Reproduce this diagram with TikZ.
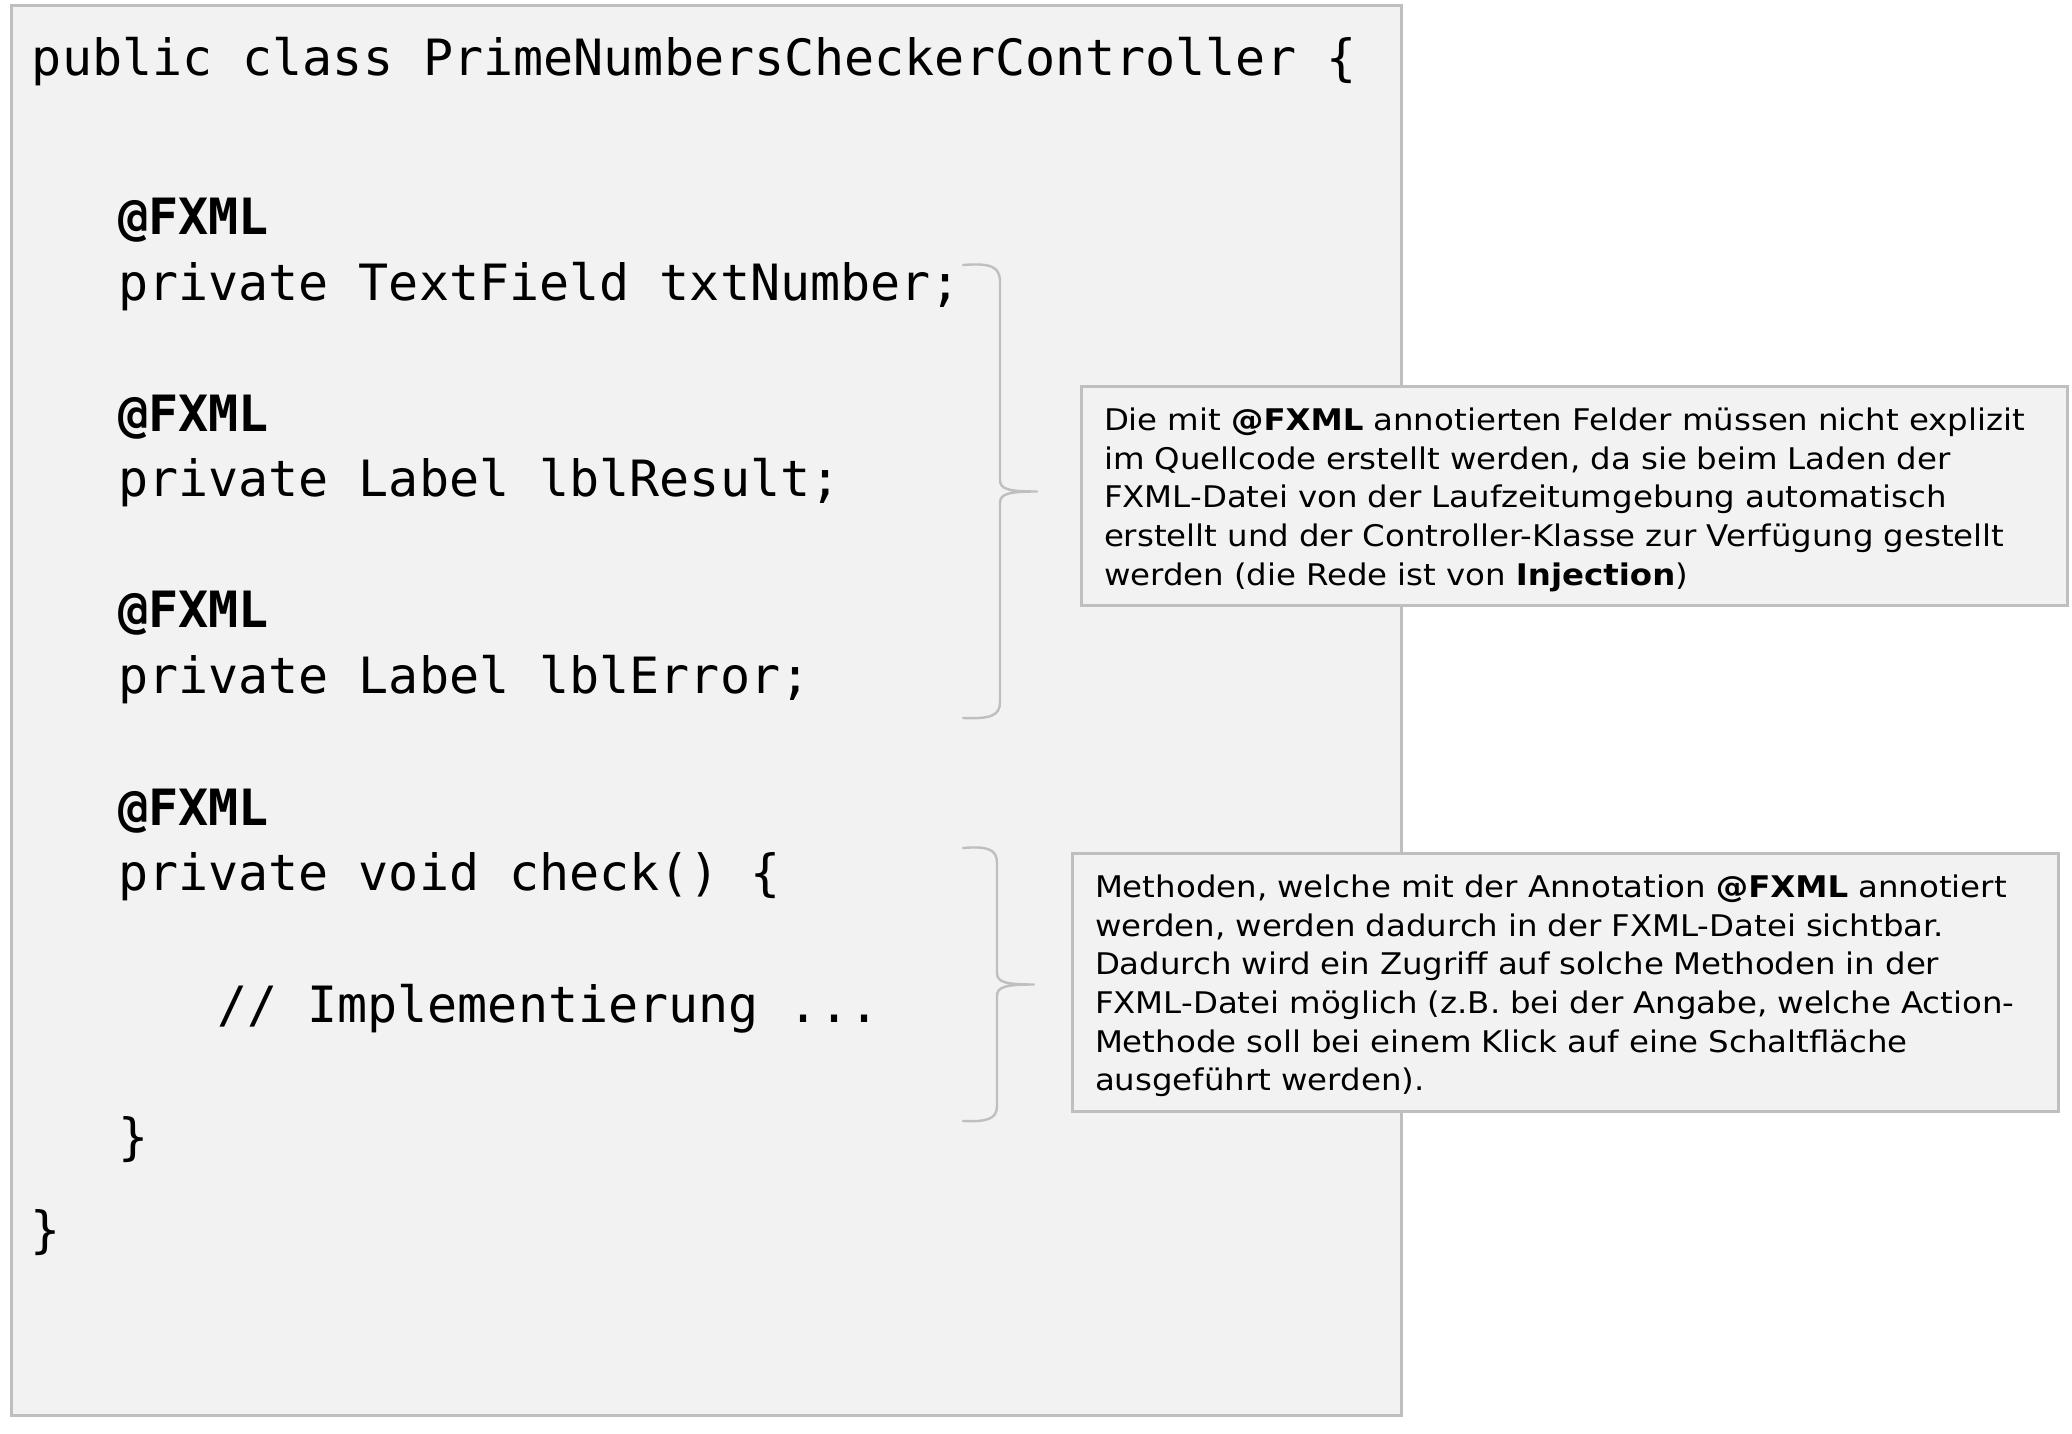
\documentclass[tikz,border=0pt]{standalone}
\usepackage{fontspec}
\setmainfont{DejaVu Sans}
\newfontfamily\codefont{DejaVu Sans Mono}
\newfontfamily\notefont[FakeStretch=1.088]{DejaVu Sans}
\definecolor{panelfill}{HTML}{F2F2F2}
\definecolor{panelline}{HTML}{BFBFBF}
\begin{document}
\begin{tikzpicture}[x=0.5pt,y=-0.5pt,
  panel/.style={draw=panelline, fill=panelfill, line width=1.5pt, inner sep=0pt, outer sep=0pt, rectangle},
  code/.style={anchor=base west, inner sep=0pt, outer sep=0pt, font=\codefont\fontsize{25}{30}\selectfont},
  codebold/.style={code, font=\codefont\bfseries\fontsize{25}{30}\selectfont},
  note/.style={anchor=base west, inner sep=0pt, outer sep=0pt, align=left, text width=540pt, font=\notefont\fontsize{14.9}{19.3}\selectfont},
  bracket/.style={draw=panelline, line width=1.2pt, line cap=round, line join=round}]
\useasboundingbox (0,0) rectangle (2072,1434);

% main code panel
\node[panel, minimum width=695pt, minimum height=704.5pt] (codepanel) at (706,710.5) {};

\node[code]     (l1)  at (32,76)     {public class PrimeNumbersCheckerController \{};
\node[codebold] (a1)  at (118,234.4) {@FXML};
\node[code]     (p1)  at (118,300.5) {private TextField txtNumber;};
\node[codebold] (a2)  at (118,431.4) {@FXML};
\node[code]     (p2)  at (118,496.8) {private Label lblResult;};
\node[codebold] (a3)  at (118,627.7) {@FXML};
\node[code]     (p3)  at (118,693.8) {private Label lblError;};
\node[codebold] (a4)  at (118,825)   {@FXML};
\node[code]     (p4)  at (118,890)   {private void check() \{};
\node[code]     (cm)  at (217,1022)  {// Implementierung ...};
\node[code]     (c1)  at (118,1154)  {\}};
\node[code]     (c2)  at (30,1247)   {\}};

% braces
\draw[bracket] (963,265) .. controls (990,263) and (1000,266) .. (1000,282)
  -- (1000,480) .. controls (1000,489) and (1008,491.5) .. (1037,491.5)
  .. controls (1008,491.5) and (1000,494) .. (1000,503)
  -- (1000,702) .. controls (1000,716) and (990,719) .. (963,718);
\draw[bracket] (963,848) .. controls (987,846) and (997,849) .. (997,863)
  -- (997,973) .. controls (997,982) and (1005,984.5) .. (1034,984.5)
  .. controls (1005,984.5) and (997,987) .. (997,996)
  -- (997,1106) .. controls (997,1119) and (987,1122) .. (963,1121);

% note 1
\node[panel, minimum width=492.75pt, minimum height=109.5pt] (note1) at (1574.25,496) {};
\node[note] (t1) at (1104,430.7) {Die mit \textbf{@FXML} annotierten Felder müssen nicht explizit\\
im Quellcode erstellt werden, da sie beim Laden der\\
FXML-Datei von der Laufzeitumgebung automatisch\\
erstellt und der Controller-Klasse zur Verfügung gestellt\\
werden (die Rede ist von \textbf{Injection})};

% note 2
\node[panel, minimum width=493pt, minimum height=129.25pt] (note2) at (1565.5,982.25) {};
\node[note] (t2) at (1095,897.7) {Methoden, welche mit der Annotation \textbf{@FXML} annotiert\\
werden, werden dadurch in der FXML-Datei sichtbar.\\
Dadurch wird ein Zugriff auf solche Methoden in der\\
FXML-Datei möglich (z.B. bei der Angabe, welche Action-\\
Methode soll bei einem Klick auf eine Schaltfläche\\
ausgeführt werden).};
\end{tikzpicture}
\end{document}
